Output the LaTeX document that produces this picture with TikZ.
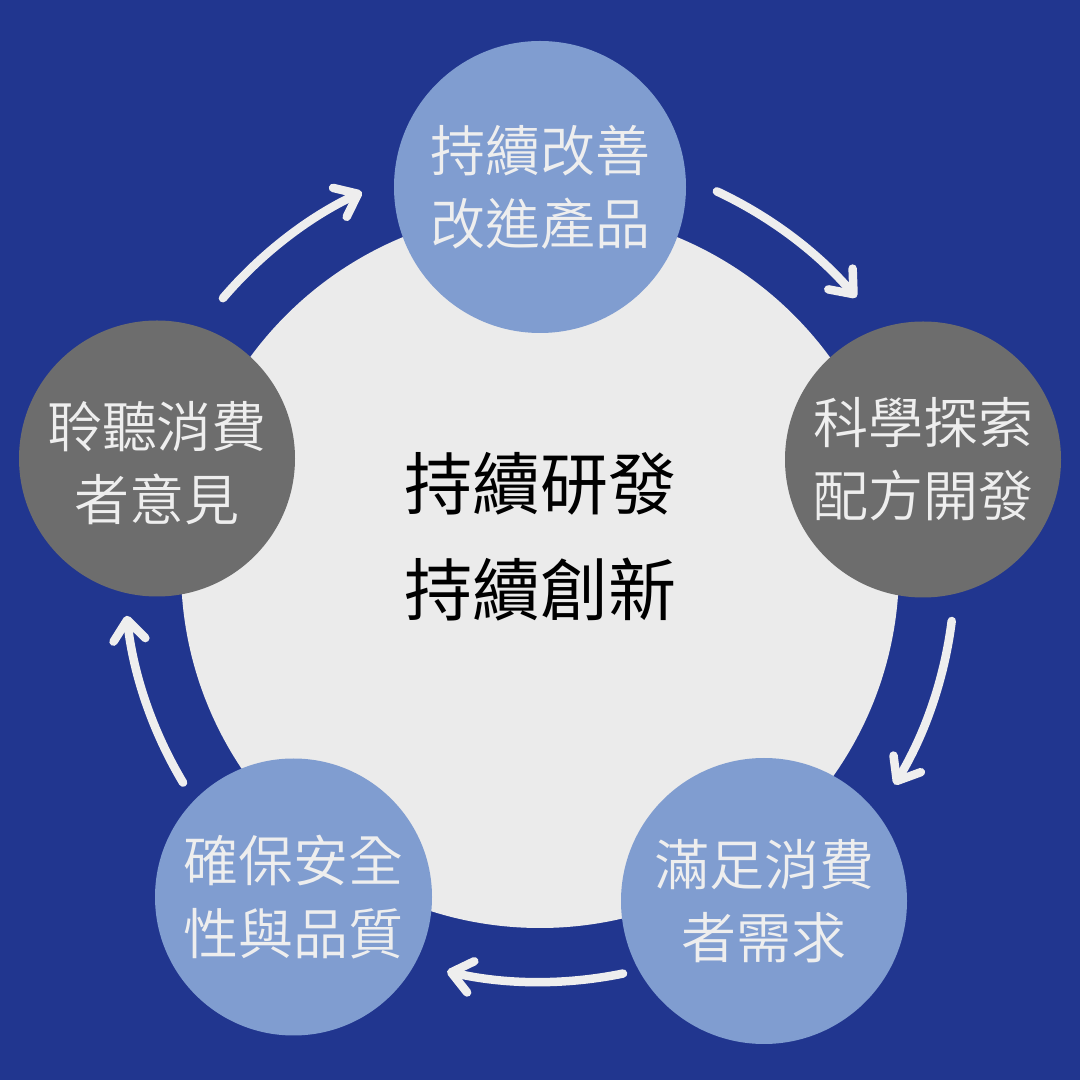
\documentclass[tikz,border=0pt]{standalone}
\usepackage{fontspec}
\usetikzlibrary{arrows.meta,calc}
\newfontfamily\cjklight{Noto Sans CJK TC DemiLight}
\newfontfamily\cjkmed{Noto Sans CJK TC}
\definecolor{bgblue}{RGB}{33,54,143}
\definecolor{lblue}{RGB}{128,157,208}
\definecolor{dgrey}{RGB}{109,109,109}
\definecolor{lgrey}{RGB}{235,235,235}
\definecolor{txtwhite}{RGB}{238,238,238}
\tikzset{
  bubble/.style={circle, inner sep=0pt, align=center, text=txtwhite,
    font={\cjklight\fontsize{55}{73}\selectfont}},
  cycarrow/.style={draw=txtwhite, line width=8.5pt, line cap=round,
    -{Straight Barb[length=20pt,width=32pt,round]}},
}
\begin{document}
\begin{tikzpicture}[x=1pt,y=1pt]
\useasboundingbox (0,0) rectangle (1080,1080);
\fill[bgblue] (0,0) rectangle (1080,1080);
\node[circle, fill=lgrey, minimum size=718pt, inner sep=0pt] (core) at (540,511) {};
\coordinate (C) at (540,511);
% arrows
\coordinate (a1s) at ($(C)+(139.5:417)$);
\coordinate (a2s) at ($(C)+(64.9:417)$);
\coordinate (a3s) at ($(C)+(-7.2:415)$);
\coordinate (a4s) at ($(C)+(-78.4:413)$);
\coordinate (a5s) at ($(C)+(210.9:416)$);
\draw[cycarrow] (a1s) arc[start angle=139.5, end angle=115.3, radius=417];
\draw[cycarrow] (a2s) arc[start angle=64.9, end angle=40.6, radius=416];
\draw[cycarrow] (a3s) arc[start angle=-7.2, end angle=-31.3, radius=415];
\draw[cycarrow] (a4s) arc[start angle=-78.4, end angle=-103, radius=413];
\draw[cycarrow] (a5s) arc[start angle=210.9, end angle=186.4, radius=415];
% bubbles
\node[bubble, fill=lblue, minimum size=292pt] (top) at (540,893) {持續改善\\改進產品};
\node[bubble, fill=dgrey, minimum size=276pt] (right) at (923,620.5) {科學探索\\配方開發};
\node[bubble, fill=lblue, minimum size=286pt] (bright) at (764,179) {滿足消費\\者需求};
\node[bubble, fill=lblue, minimum size=277pt] (bleft) at (293.5,183) {確保安全\\性與品質};
\node[bubble, fill=dgrey, minimum size=276pt] (left) at (157,621.5) {};
\node[bubble] (lefttext) at (157,617) {聆聽消費\\者意見};
% centre text
\node[align=center, text=black, font={\cjkmed\fontsize{68}{106}\selectfont}] (title) at (540,543) {持續研發\\持續創新};
\end{tikzpicture}
\end{document}
